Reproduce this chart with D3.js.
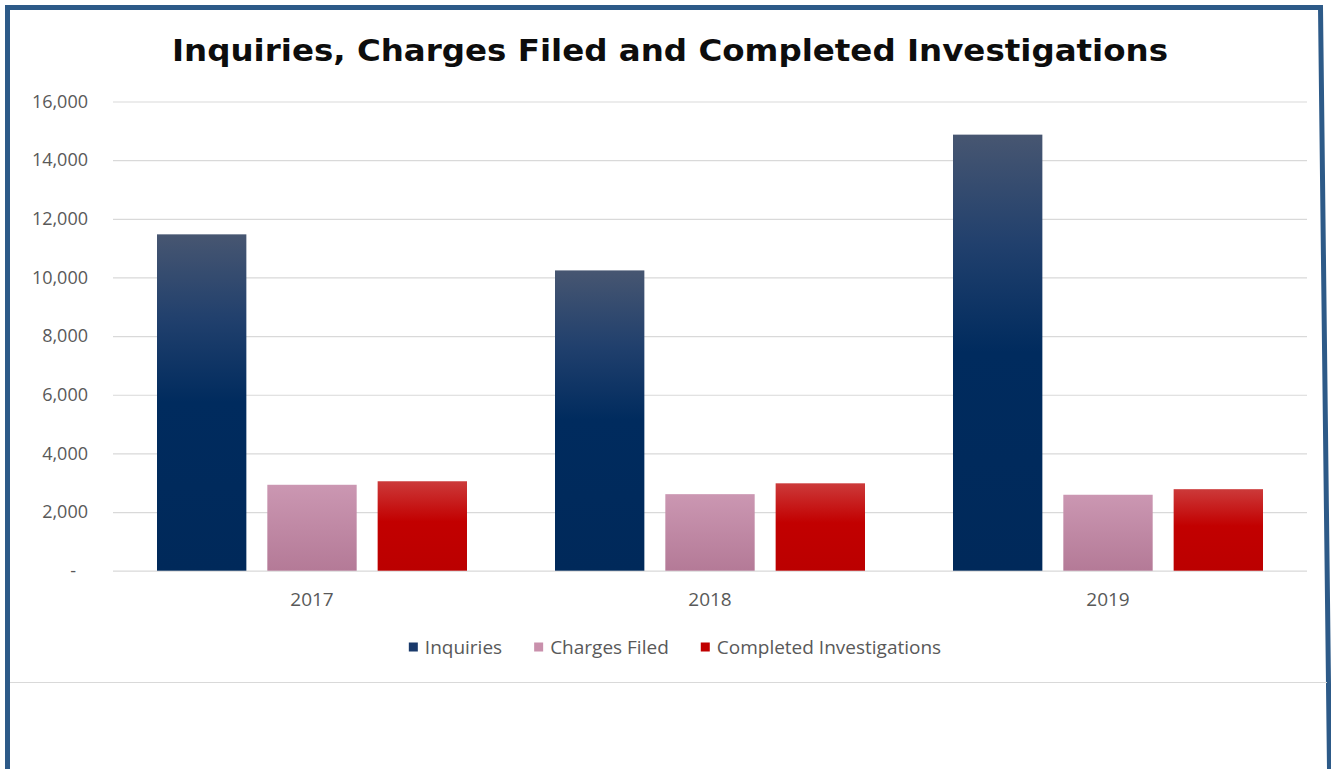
<!DOCTYPE html>
<html>
<head>
<meta charset="utf-8">
<script src="https://cdn.jsdelivr.net/npm/d3@7"></script>
<style>
  html, body { margin: 0; padding: 0; background: #ffffff; }
  svg { display: block; }
</style>
</head>
<body>
<svg id="chart" width="1331" height="769"></svg>
<script>
// ---- Data ----
const categories = ["2017", "2018", "2019"];
const seriesNames = ["Inquiries", "Charges Filed", "Completed Investigations"];
const inquiries = [11470, 10240, 14870];
const chargesFiled = [2930, 2610, 2590];
const completedInvestigations = [3050, 2980, 2780];
const yTickValues = [0, 2000, 4000, 6000, 8000, 10000, 12000, 14000, 16000];
const titleText = "Inquiries, Charges Filed and Completed Investigations";

const seriesValues = [inquiries, chargesFiled, completedInvestigations];
const seriesGradients = [
  [["0%", "#475671"], ["25%", "#21406d"], ["50%", "#002b5e"], ["100%", "#00295a"]],
  [["0%", "#cb97b2"], ["100%", "#b47a97"]],
  [["0%", "#cc3a3a"], ["45%", "#c20000"], ["100%", "#bb0000"]]
];
const legendColors = ["#1a3a6b", "#c990ac", "#c00000"];

const svg = d3.select("#chart");
const W = 1331, H = 769;
const labelFont = "'Open Sans', sans-serif";

// ---- Frame ----
svg.append("rect").attr("x", 0).attr("y", 0).attr("width", W).attr("height", H).attr("fill", "#ffffff");
svg.append("path")
  .attr("d", "M7.5,769 L7.5,7.5 L1320.5,7.5 L1329.5,769")
  .attr("fill", "none").attr("stroke", "#2d5a88").attr("stroke-width", 5);
svg.append("line")
  .attr("x1", 10).attr("x2", 1327).attr("y1", 682.5).attr("y2", 682.5)
  .attr("stroke", "#d9d9d9").attr("stroke-width", 1.2);

// ---- Gradients ----
const defs = svg.append("defs");
seriesGradients.forEach((stops, i) => {
  const g = defs.append("linearGradient").attr("id", "grad" + i)
    .attr("x1", 0).attr("y1", 0).attr("x2", 0).attr("y2", 1);
  stops.forEach(s => g.append("stop").attr("offset", s[0]).attr("stop-color", s[1]));
});

// ---- Scales ----
const plotLeft = 113, plotRight = 1307;
const y = d3.scaleLinear().domain([0, 16000]).range([570.7, 101.5]);
const x0 = d3.scaleBand().domain(categories).range([plotLeft, plotRight]).padding(0);
const x1 = d3.scaleBand().domain(seriesNames).range([44, x0.bandwidth() - 44]).paddingInner(0.19).paddingOuter(0);

// ---- Gridlines ----
const gridAxis = d3.axisLeft(y).tickValues(yTickValues).tickSize(-(plotRight - plotLeft)).tickFormat("");
const gg = svg.append("g").attr("transform", `translate(${plotLeft},0)`).call(gridAxis);
gg.select(".domain").remove();
gg.selectAll(".tick line").attr("stroke", "#d9d9d9").attr("stroke-width", 1.2);

// ---- Y tick labels ----
const yAxis = d3.axisLeft(y).tickValues(yTickValues).tickSize(0)
  .tickFormat(d => d === 0 ? "-" : d3.format(",")(d));
const ya = svg.append("g").attr("transform", `translate(88,0)`).call(yAxis);
ya.select(".domain").remove();
ya.selectAll(".tick text")
  .attr("x", d => d === 0 ? -12 : 0)
  .attr("fill", "#595959")
  .style("font-family", labelFont)
  .style("font-size", "18px");

// ---- Bars ----
const groups = svg.append("g").selectAll("g").data(categories).join("g")
  .attr("transform", d => `translate(${x0(d)},0)`);
groups.selectAll("rect")
  .data((c, ci) => seriesNames.map((s, si) => ({ s, si, v: seriesValues[si][ci] })))
  .join("rect")
  .attr("x", d => x1(d.s))
  .attr("width", x1.bandwidth())
  .attr("y", d => y(d.v))
  .attr("height", d => y(0) - y(d.v))
  .attr("fill", d => `url(#grad${d.si})`);

// ---- X axis labels ----
const xAxis = d3.axisBottom(x0).tickSize(0);
const xa = svg.append("g").attr("transform", `translate(0,${y(0)})`).call(xAxis);
xa.select(".domain").remove();
xa.selectAll(".tick text")
  .attr("y", 29).attr("dy", "0.35em")
  .attr("fill", "#595959")
  .style("font-family", labelFont)
  .style("font-size", "19px");

// ---- Title ----
svg.append("text")
  .attr("x", 670).attr("y", 61)
  .attr("text-anchor", "middle")
  .attr("fill", "#0d0d0d")
  .style("font-family", "'DejaVu Sans', sans-serif")
  .style("font-weight", "bold")
  .style("font-size", "31px")
  .attr("textLength", 996).attr("lengthAdjust", "spacingAndGlyphs")
  .text(titleText);

// ---- Legend ----
const legend = svg.append("g");
const items = legend.selectAll("g").data(seriesNames).join("g");
items.append("rect").attr("width", 9).attr("height", 9).attr("y", -4.5)
  .attr("fill", (d, i) => legendColors[i]);
items.append("text").attr("x", 16).attr("dy", "0.35em")
  .attr("fill", "#595959")
  .style("font-family", labelFont)
  .style("font-size", "19px")
  .text(d => d);
let widths = [];
items.each(function () { widths.push(this.getBBox().width); });
const gap = 32;
const total = d3.sum(widths) + gap * (widths.length - 1);
let cx = 675 - total / 2;
items.attr("transform", (d, i) => {
  const t = `translate(${cx},647)`;
  cx += widths[i] + gap;
  return t;
});
</script>
</body>
</html>
